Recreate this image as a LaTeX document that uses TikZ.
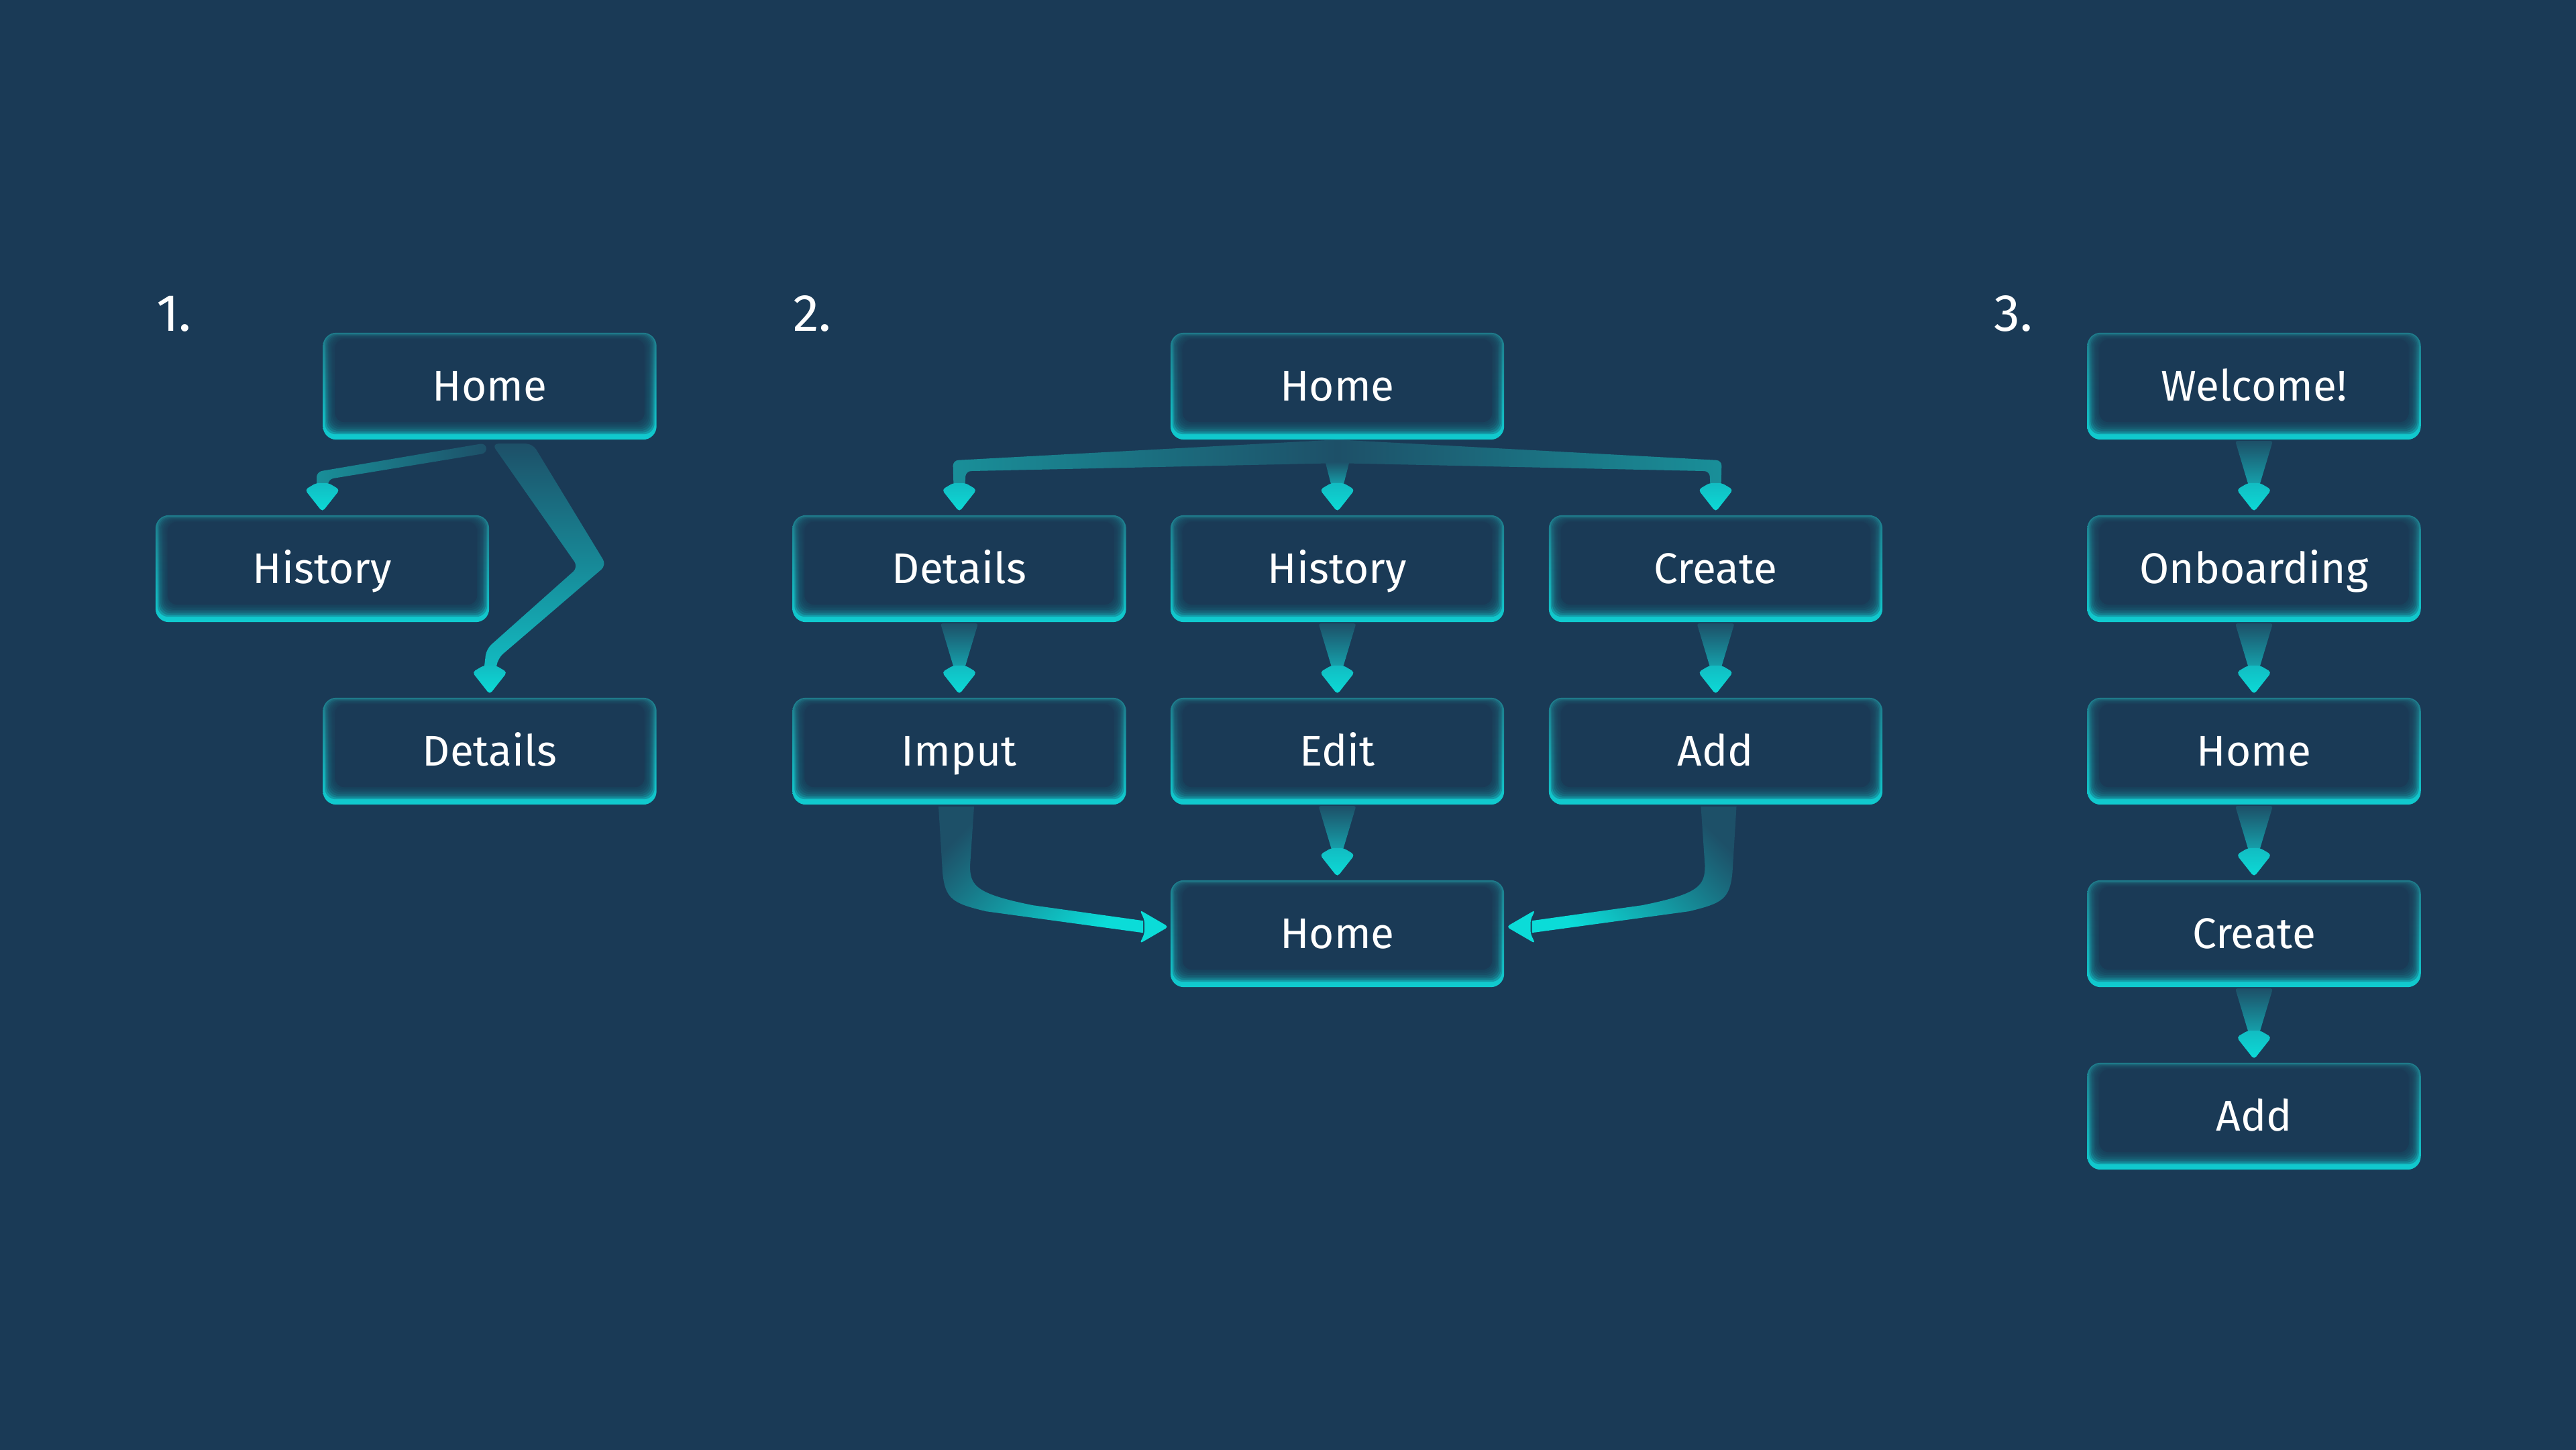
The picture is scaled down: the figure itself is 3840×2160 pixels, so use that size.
\documentclass[tikz,border=0pt]{standalone}
\usepackage{fontspec}
\setmainfont{Fira Sans}
\usetikzlibrary{calc}
\pgfdeclarelayer{bglayer}
\pgfdeclarelayer{arrowlayer}
\pgfdeclarelayer{boxlayer}
\pgfsetlayers{bglayer,arrowlayer,boxlayer,main}
\definecolor{bgcol}{HTML}{1A3A56}
\definecolor{adim}{HTML}{1D5068}
\definecolor{amid}{HTML}{15A3AD}
\definecolor{ahead}{HTML}{12BCC2}
\definecolor{abright}{HTML}{0BDCD8}
\definecolor{rimtop}{HTML}{1F7A8A}
\definecolor{rimbot}{HTML}{10CCD0}
\definecolor{bandend}{HTML}{198F99}
\definecolor{banddim}{HTML}{1D5068}
\tikzset{
  scr/.style={rectangle, minimum width=497pt, minimum height=159pt, inner sep=0pt,
    text=white, font=\fontsize{64}{77}\selectfont, text height=44pt, text depth=0pt},
  lab/.style={inner sep=0pt, text=white, font=\fontsize{78}{90}\selectfont, anchor=base west},
  headshade/.style={top color=ahead, bottom color=abright},
}
\newcommand\screen[3]{%
  \node[scr] (#1) at (#2) {#3};
  \begin{pgfonlayer}{boxlayer}
    \shade[rounded corners=20pt, top color=rimtop, bottom color=rimbot]
      (#1.south west) rectangle (#1.north east);
    \foreach \k in {0,...,7}{%
      \pgfmathsetmacro\il{3+15*\k/7}%
      \pgfmathsetmacro\it{2+8*\k/7}%
      \pgfmathsetmacro\ib{8+18*\k/7}%
      \fill[bgcol, fill opacity=0.3, rounded corners=16pt]
        ($(#1.north west)+(\il,\it)$) rectangle ($(#1.south east)+(-\il,-\ib)$);
    }
    \fill[bgcol, rounded corners=14pt]
      ($(#1.north west)+(18,10)$) rectangle ($(#1.south east)+(-18,-26)$);
  \end{pgfonlayer}}
\newcommand\headdown[1]{%
  \begin{scope}[shift={($(#1)+(0,-6)$)}]
    \shade[headshade, rounded corners=5pt] (-9,-42) -- (-26,-32) -- (0,1) -- (26,-32) -- (9,-42) -- cycle;
  \end{scope}}
\newcommand\vconn[2]{%
  \begin{pgfonlayer}{arrowlayer}
    \shade[top color=adim, bottom color=amid, rounded corners=3pt]
      ($(#1.south)+(-28,2)$) -- ($(#2.north)+(-8,-44)$) -- ($(#2.north)+(8,-44)$) -- ($(#1.south)+(28,2)$) -- cycle;
    \headdown{#2.north}
  \end{pgfonlayer}}

\begin{document}
\begin{tikzpicture}[x=1pt,y=-1pt]
\useasboundingbox (0,0) rectangle (3840,2160);
\begin{pgfonlayer}{bglayer}
  \fill[bgcol] (-20,-20) rectangle (3860,2180);
\end{pgfonlayer}

% labels
\node[lab] (l1) at (233,493) {1.};
\node[lab] (l2) at (1182,493) {2.};
\node[lab] (l3) at (2972,493) {3.};

% diagram 1
\screen{d1home}{730,575.5}{Home}
\screen{d1hist}{480.5,847.5}{History}
\screen{d1det}{730,1119.5}{Details}

% diagram 2
\screen{d2home}{1993.5,575.5}{Home}
\screen{d2det}{1430,847.5}{Details}
\screen{d2hist}{1993.5,847.5}{History}
\screen{d2cre}{2557.5,847.5}{Create}
\screen{d2imp}{1430,1119.5}{Imput}
\screen{d2edit}{1993.5,1119.5}{Edit}
\screen{d2add}{2557.5,1119.5}{Add}
\screen{d2end}{1993.5,1391.5}{Home}

% diagram 3
\screen{d3wel}{3360,575.5}{Welcome!}
\screen{d3onb}{3360,847.5}{Onboarding}
\screen{d3home}{3360,1119.5}{Home}
\screen{d3cre}{3360,1391.5}{Create}
\screen{d3add}{3360,1663.5}{Add}

% ---- connectors ----
\begin{pgfonlayer}{arrowlayer}
  % diagram 1: Home -> History
  \begin{scope}[shift={(d1home.south)}]
    \shade[left color=bandend, right color=adim, rounded corners=8pt]
      (-6,5) -- (-258,48) -- (-258,73) -- (-241,73) -- (-241,59) -- (-4,20) -- cycle;
  \end{scope}
  \headdown{d1hist.north}
  % diagram 1: Home -> Details
  \begin{scope}[shift={(d1home.south)}]
    \shade[top color=banddim, bottom color=ahead, rounded corners=10pt]
      (3,6) -- (132,190) -- (-5,312) -- (-9,346) -- (9,346) -- (12,326) -- (174,187) -- (64,6) -- cycle;
  \end{scope}
  \headdown{d1det.north}

  % diagram 2: fan from Home
  \begin{scope}[shift={(d2home.south)}]
    \shade[left color=bandend, right color=bandend, middle color=banddim, rounded corners=8pt]
      (0,0) -- (-573,31) -- (-572,72) -- (-555,72) -- (-554,47) -- (0,35)
      -- (555,47) -- (556,72) -- (572,72) -- (573,31) -- cycle;
    \shade[top color=banddim, bottom color=amid]
      (-18,33) -- (-9,68) -- (9,68) -- (18,33) -- cycle;
  \end{scope}
  \headdown{d2det.north}
  \headdown{d2hist.north}
  \headdown{d2cre.north}

  % diagram 2: Imput -> Home
  \begin{scope}[shift={(d2imp.south)}]
    \shade[top color=adim, bottom color=abright, shading angle=45]
      (-31,3) -- (-25,101) .. controls (-21,141) and (-10,147) .. (40,159) -- (274,191)
      -- (274,173) -- (110,150) .. controls (25,133) and (16,121) .. (16,91) -- (22,3) -- cycle;
    \fill[abright, rounded corners=5pt] (276,172) -- (269,157) -- (312,182) -- (269,207) -- (276,192) -- cycle;
  \end{scope}
  % diagram 2: Add -> Home
  \begin{scope}[shift={(d2add.south)}, xscale=-1]
    \shade[top color=adim, bottom color=abright, shading angle=-45]
      (-31,3) -- (-25,101) .. controls (-21,141) and (-10,147) .. (40,159) -- (274,191)
      -- (274,173) -- (110,150) .. controls (25,133) and (16,121) .. (16,91) -- (22,3) -- cycle;
    \fill[abright, rounded corners=5pt] (276,172) -- (269,157) -- (312,182) -- (269,207) -- (276,192) -- cycle;
  \end{scope}
\end{pgfonlayer}

\vconn{d2det}{d2imp}
\vconn{d2hist}{d2edit}
\vconn{d2cre}{d2add}
\vconn{d2edit}{d2end}

\vconn{d3wel}{d3onb}
\vconn{d3onb}{d3home}
\vconn{d3home}{d3cre}
\vconn{d3cre}{d3add}
\end{tikzpicture}
\end{document}
